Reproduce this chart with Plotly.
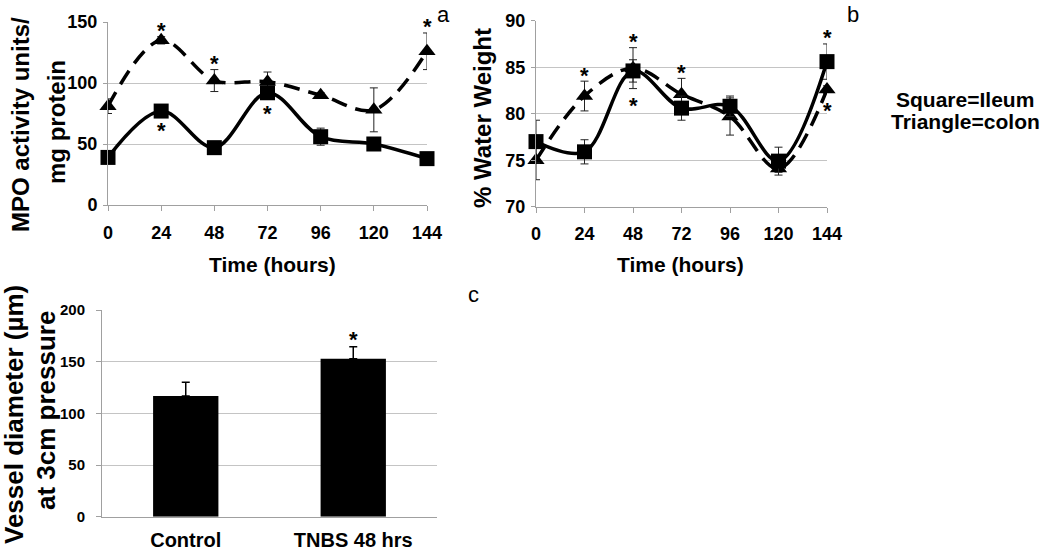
import plotly.graph_objects as go

# ---------------- data ----------------
hours = [0, 24, 48, 72, 96, 120, 144]

mpo_ileum = [39, 77, 47, 92, 56, 50, 38]
mpo_ileum_err = [2, 2, 2, 3, 7, 4, 2]
mpo_colon = [81, 135, 102, 101, 90, 78, 126]
mpo_colon_err = [6, 3, 9, 8, 2, 18, 15]

water_ileum = [77.0, 75.9, 84.6, 80.6, 80.8, 74.9, 85.6]
water_ileum_err = [2.3, 1.3, 1.2, 1.3, 1.1, 1.5, 1.9]
water_colon = [75.0, 81.9, 84.9, 82.1, 79.7, 74.1, 82.6]
water_colon_err = [2.1, 1.6, 2.2, 1.7, 2.0, 0.4, 0.4]

vessel_groups = ["Control", "TNBS 48 hrs"]
vessel_diam = [116.8, 152.8]
vessel_err = [13.2, 11.7]

# significance marks: (series, hour, side)
sig_a = [("colon", 24, "above"), ("colon", 48, "above"), ("colon", 144, "above"),
         ("ileum", 24, "below"), ("ileum", 72, "below")]
sig_b = [("colon", 24, "above"), ("colon", 48, "above"), ("colon", 48, "below"),
         ("colon", 72, "above"), ("ileum", 144, "above"), ("colon", 144, "below")]
sig_c = ["TNBS 48 hrs"]

W, H = 1050, 552
FONT = "Liberation Sans, Arial, sans-serif"


def px(x):
    return x / W


def py(y):
    return 1 - y / H


fig = go.Figure()

err_style = dict(type="data", color="#222", thickness=1, width=4)


def add_series(x, y, err, symbol, dash, xa, ya):
    fig.add_trace(go.Scatter(
        x=x, y=y, xaxis=xa, yaxis=ya, mode="lines+markers",
        line=dict(shape="spline", width=3.5, color="black", dash=dash),
        marker=dict(symbol=symbol, size=15, color="black"),
        error_y=dict(array=err, **err_style),
        cliponaxis=False, showlegend=False, hoverinfo="skip"))


add_series(hours, mpo_colon, mpo_colon_err, "triangle-up", "16px,9px", "x", "y")
add_series(hours, mpo_ileum, mpo_ileum_err, "square", "solid", "x", "y")
add_series(hours, water_colon, water_colon_err, "triangle-up", "16px,9px", "x2", "y2")
add_series(hours, water_ileum, water_ileum_err, "square", "solid", "x2", "y2")

fig.add_trace(go.Bar(
    x=vessel_groups, y=vessel_diam, xaxis="x3", yaxis="y3",
    marker=dict(color="black", line=dict(width=0)),
    error_y=dict(type="data", array=vessel_err, arrayminus=[0, 0], symmetric=False,
                 color="black", thickness=1.5, width=4),
    showlegend=False, hoverinfo="skip"))

annotations = []


def star(xa, ya, x, y, shift):
    annotations.append(dict(xref=xa, yref=ya, x=x, y=y, yshift=shift, text="<b>*</b>",
                            showarrow=False, font=dict(family=FONT, size=22, color="black"),
                            xanchor="center", yanchor="middle"))


series_a = {"ileum": (mpo_ileum, mpo_ileum_err), "colon": (mpo_colon, mpo_colon_err)}
series_b = {"ileum": (water_ileum, water_ileum_err), "colon": (water_colon, water_colon_err)}
for sig, series, xa, ya in [(sig_a, series_a, "x", "y"), (sig_b, series_b, "x2", "y2")]:
    for name, hr, side in sig:
        vals, errs = series[name]
        i = hours.index(hr)
        if side == "above":
            star(xa, ya, hr, vals[i] + errs[i], 6)
        else:
            star(xa, ya, hr, vals[i] - errs[i], -17)
for g in sig_c:
    i = vessel_groups.index(g)
    star("x3", "y3", g, vessel_diam[i] + vessel_err[i], 7)


def text(x, y, s, size, bold=True, angle=0):
    annotations.append(dict(xref="paper", yref="paper", x=px(x), y=py(y),
                            text=f"<b>{s}</b>" if bold else s, textangle=angle,
                            showarrow=False, xanchor="center", yanchor="middle",
                            font=dict(family=FONT, size=size, color="black")))


text(272, 264, "Time (hours)", 21)
text(680, 264, "Time (hours)", 21)
text(20, 125, "MPO activity units/", 24, angle=-90)
text(57, 122, "mg protein", 24, angle=-90)
text(482, 118, "% Water Weight", 24, angle=-90)
text(14, 415, "Vessel diameter (µm)", 26, angle=-90)
text(46, 411, "at 3cm pressure", 26, angle=-90)
text(965, 99, "Square=Ileum", 21)
text(965, 122, "Triangle=colon", 21)
text(443, 14, "a", 22, bold=False)
text(853, 14, "b", 22, bold=False)
text(473, 294, "c", 22, bold=False)

tickfont = dict(family=FONT, size=18, color="black", weight="bold")
GRID = "#c4c4c4"
AX = "#a0a0a0"

xcommon = dict(range=[0, 144], tickvals=hours, ticks="outside", ticklen=5, tickcolor=AX,
               showline=True, linecolor=AX, linewidth=1, showgrid=False, zeroline=False,
               tickfont=tickfont, ticklabelstandoff=6, automargin=False)
ycommon = dict(showgrid=True, gridcolor=GRID, gridwidth=1, showline=True, linecolor=AX,
               linewidth=1, ticks="outside", ticklen=4, tickcolor=AX, zeroline=False,
               tickfont=tickfont, ticklabelstandoff=2, automargin=False)

fig.update_layout(
    width=W, height=H, margin=dict(l=0, r=0, t=0, b=0, autoexpand=False),
    paper_bgcolor="white", plot_bgcolor="white",
    xaxis=dict(domain=[px(108), px(427)], anchor="y", **xcommon),
    yaxis=dict(domain=[py(205), py(22)], anchor="x", range=[0, 150], tickvals=[0, 50, 100, 150], **ycommon),
    xaxis2=dict(domain=[px(536), px(827)], anchor="y2", **xcommon),
    yaxis2=dict(domain=[py(206.7), py(20.7)], anchor="x2", range=[70, 90], tickvals=[70, 75, 80, 85, 90], **ycommon),
    xaxis3=dict(domain=[px(102), px(437)], anchor="y3", type="category", showline=True, linecolor=AX,
                linewidth=1, ticks="", showgrid=False, zeroline=False, automargin=False,
                tickfont=dict(family=FONT, size=20, color="black", weight="bold"), ticklabelstandoff=5),
    yaxis3=dict(domain=[py(516.7), py(310)], anchor="x3", range=[0, 200], tickvals=[0, 50, 100, 150, 200],
                showgrid=True, gridcolor=GRID, showline=True, linecolor=AX, linewidth=1, ticks="outside",
                ticklen=5, tickcolor=AX, zeroline=False, automargin=False,
                tickfont=dict(family=FONT, size=15, color="black", weight="bold"), ticklabelstandoff=8),
    bargap=0.61,
    annotations=annotations,
)

fig.write_html("out.html", config={"displayModeBar": False},
               post_script="document.body.style.margin='0';document.body.style.overflow='hidden';")
